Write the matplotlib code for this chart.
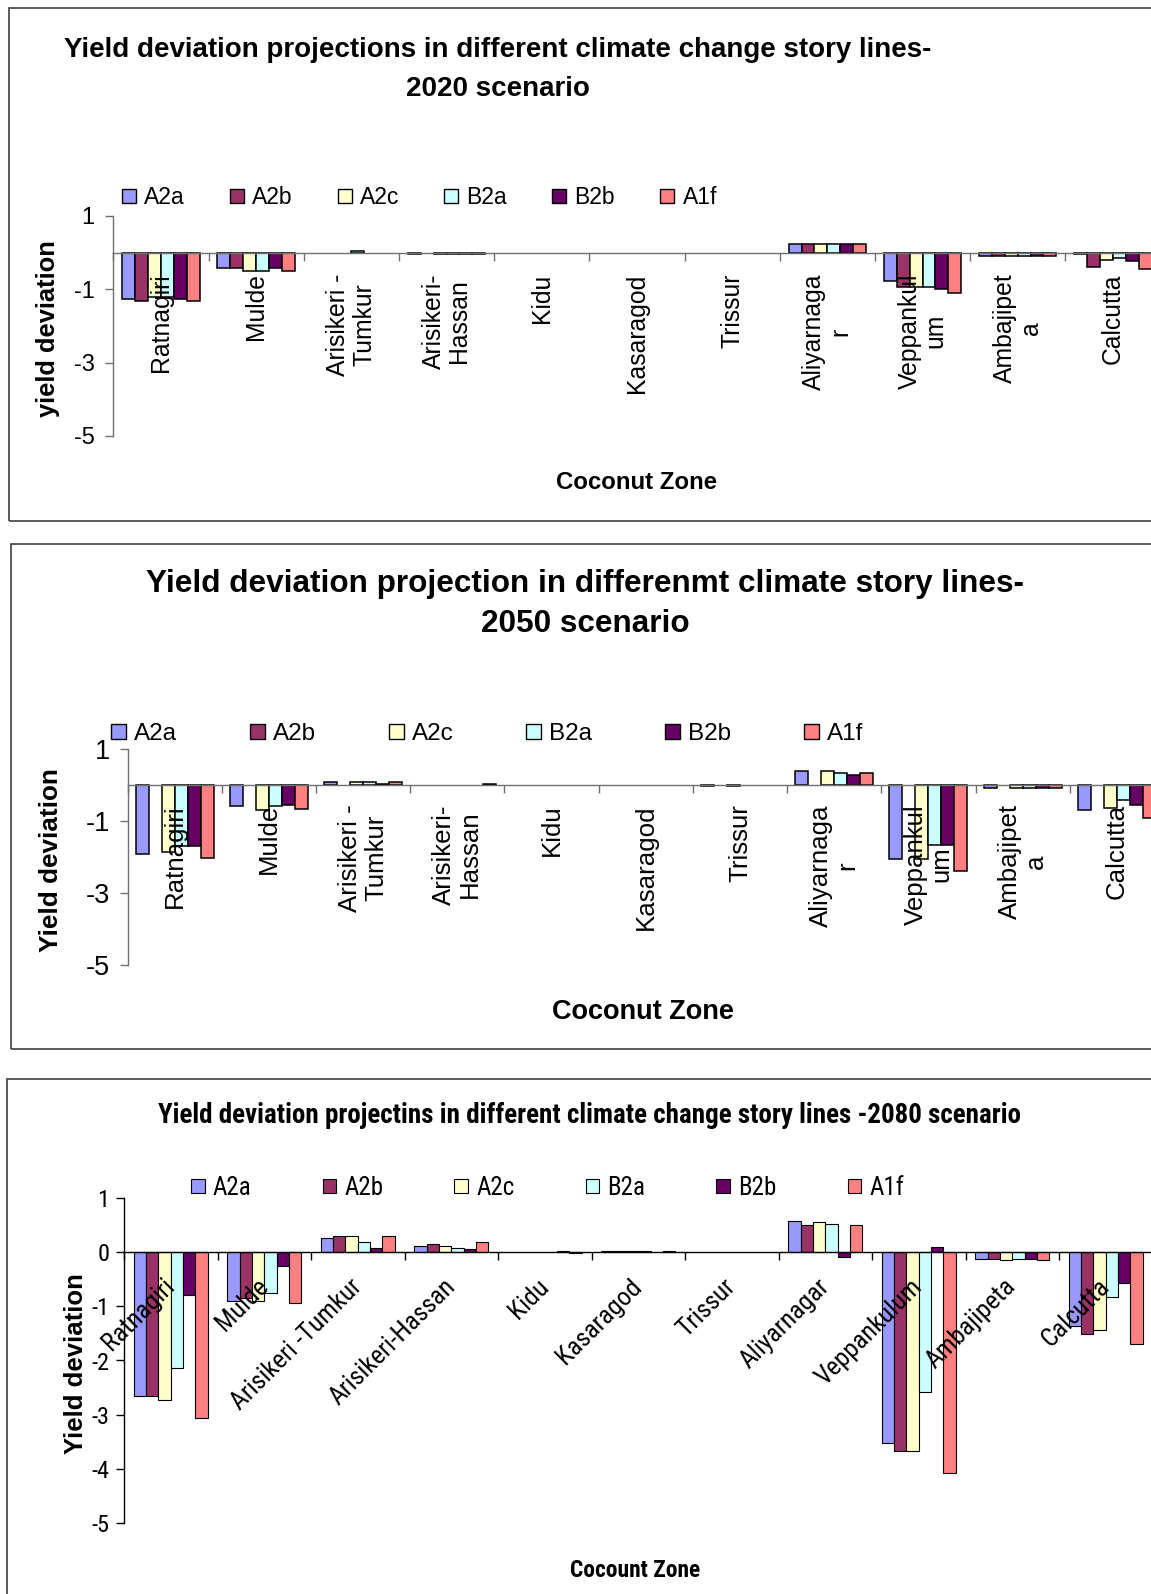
import numpy as np
import matplotlib
matplotlib.use('Agg')
import matplotlib.pyplot as plt
from matplotlib.patches import Patch, Rectangle
from matplotlib.font_manager import FontProperties, fontManager

zones = ['Ratnagiri', 'Mulde', 'Arisikeri -Tumkur', 'Arisikeri-Hassan', 'Kidu',
         'Kasaragod', 'Trissur', 'Aliyarnagar', 'Veppankulum', 'Ambajipeta', 'Calcutta']
# the 2020 and 2050 charts wrap the long zone names
zones_wrapped = ['Ratnagiri', 'Mulde', 'Arisikeri -\nTumkur', 'Arisikeri-\nHassan', 'Kidu',
                 'Kasaragod', 'Trissur', 'Aliyarnaga\nr', 'Veppankul\num', 'Ambajipet\na',
                 'Calcutta']
storylines = ['A2a', 'A2b', 'A2c', 'B2a', 'B2b', 'A1f']
colors = ['#9999ff', '#993366', '#ffffcc', '#ccffff', '#660066', '#ff8080']

# yield deviation, one row per story line (A2a, A2b, A2c, B2a, B2b, A1f)
dev_2020 = [
    [-1.25, -0.43, 0.00, -0.03, 0, 0, 0, 0.23, -0.77, -0.10, -0.03],
    [-1.31, -0.43, 0.00, 0.00, 0, 0, 0, 0.23, -0.93, -0.10, -0.40],
    [-1.20, -0.50, 0.00, -0.03, 0, 0, 0, 0.23, -0.93, -0.10, -0.21],
    [-1.20, -0.50, 0.04, -0.03, 0, 0, 0, 0.23, -0.93, -0.10, -0.15],
    [-1.25, -0.43, 0.00, -0.03, 0, 0, 0, 0.23, -0.98, -0.10, -0.22],
    [-1.31, -0.50, 0.00, -0.03, 0, 0, 0, 0.23, -1.10, -0.10, -0.45],
]
dev_2050 = [
    [-1.92, -0.60, 0.08, 0.00, 0, 0, -0.03, 0.38, -2.07, -0.10, -0.71],
    [0, 0, 0, 0, 0, 0, 0, 0, 0, 0, 0],
    [-1.86, -0.71, 0.08, 0.00, 0, 0, -0.03, 0.38, -2.07, -0.10, -0.64],
    [-1.70, -0.60, 0.08, 0.00, 0, 0, 0.00, 0.32, -1.67, -0.10, -0.42],
    [-1.70, -0.55, 0.02, 0.00, 0, 0, 0.00, 0.26, -1.67, -0.10, -0.57],
    [-2.03, -0.67, 0.08, 0.02, 0, 0, 0.00, 0.32, -2.40, -0.10, -0.91],
]
dev_2080 = [
    [-2.65, -0.90, 0.27, 0.11, 0.00, 0.03, 0, 0.57, -3.52, -0.12, -1.37],
    [-2.65, -0.85, 0.30, 0.15, 0.00, 0.03, 0, 0.51, -3.67, -0.12, -1.51],
    [-2.73, -0.90, 0.30, 0.12, 0.00, 0.03, 0, 0.55, -3.67, -0.15, -1.43],
    [-2.13, -0.75, 0.19, 0.08, 0.00, 0.03, 0, 0.52, -2.58, -0.12, -0.83],
    [-0.79, -0.25, 0.08, 0.05, 0.03, 0.00, 0, -0.09, 0.10, -0.12, -0.57],
    [-3.06, -0.93, 0.30, 0.19, -0.02, 0.03, 0, 0.51, -4.08, -0.15, -1.69],
]

W, H = 1151, 1594
REG = 'Liberation Sans'

fig = plt.figure(figsize=(W / 100, H / 100), dpi=100)
renderer = fig.canvas.get_renderer()


def text_width(s, family, size, weight='normal'):
    w, _, _ = renderer.get_text_width_height_descent(
        s, FontProperties(family=family, size=size, weight=weight), ismath=False)
    return w


def pick_narrow(candidates):
    # first condensed family that also ships a static bold face
    for name in candidates:
        weights = {f.weight for f in fontManager.ttflist if f.name == name}
        if weights & {700, 'bold'} and weights & {400, 'normal', 'regular'}:
            return name
    return REG


NARROW = pick_narrow(['Liberation Sans Narrow', 'Arial Narrow', 'Archivo Narrow',
                      'Roboto Condensed', 'IBM Plex Sans Condensed', 'PT Sans Narrow',
                      'Fira Sans Condensed', 'Sofia Sans Condensed'])
# condensed faces differ in width: size them so text runs about 0.8 of Arial width
_probe = 'Yield deviation projectins in different climate change story lines'
NSCALE = 0.8 * text_width(_probe, REG, 20, 'bold') / text_width(_probe, NARROW, 20, 'bold')


def fx(px):
    return px / W


def fy(py):
    return 1 - py / H


def axes_rect(left, right, top, bottom):
    return [fx(left), fy(bottom), (right - left) / W, (bottom - top) / H]


def frame(left, top, bottom):
    # chart-area border, running off the right edge of the page
    fig.add_artist(Rectangle((fx(left), fy(bottom)), (1300 - left) / W, (bottom - top) / H,
                             transform=fig.transFigure, fill=False,
                             edgecolor='#404040', linewidth=1.2))


def draw_bars(ax, values, bar_w, lw):
    x = np.arange(len(zones)) + 0.5
    for k, (vals, c) in enumerate(zip(values, colors)):
        vals = np.asarray(vals, dtype=float)
        keep = vals != 0
        ax.bar(x[keep] + (k - 2.5) * bar_w, vals[keep], width=bar_w, color=c,
               edgecolor='black', linewidth=lw, zorder=2)


def setup_axes(ax, yticks, axis_color, tick_font, tick_size, tick_pad):
    ax.patch.set_visible(False)
    ax.set_axisbelow(False)  # zone names sit on top of the bars
    ax.set_xlim(0, len(zones))
    ax.set_ylim(-5, 1)
    ax.spines['top'].set_visible(False)
    ax.spines['right'].set_visible(False)
    ax.spines['bottom'].set_position(('data', 0))
    for side in ('left', 'bottom'):
        ax.spines[side].set_color(axis_color)
        ax.spines[side].set_linewidth(1.0)
    ax.set_yticks(yticks)
    ax.set_yticklabels([str(t) for t in yticks], fontfamily=tick_font, fontsize=tick_size)
    ax.tick_params(axis='y', direction='out', length=5.5, width=1.0, color=axis_color,
                   pad=tick_pad)
    ax.set_xticks(np.arange(len(zones) + 1))
    ax.set_xticklabels([])
    ax.tick_params(axis='x', which='major', direction='out', length=5.5, width=1.0,
                   color=axis_color)
    ax.set_xticks(np.arange(len(zones)) + 0.5, minor=True)


def add_legend(ax, x_px, y_px, family, size, box_px, gap_px, pitch_px, lw):
    # box_px: key square, gap_px: key-to-text gap, pitch_px: distance between entries
    fs_px = size * 100 / 72
    tw = text_width('A2a', family, size)
    handles = [Patch(facecolor=c, edgecolor='black', linewidth=lw) for c in colors]
    ax.legend(handles, storylines, loc='center left', bbox_to_anchor=(fx(x_px), fy(y_px)),
              bbox_transform=fig.transFigure, ncol=6, frameon=False, borderpad=0,
              borderaxespad=0, handlelength=box_px / fs_px,
              handleheight=(box_px / fs_px - 0.245) / 0.65,
              handletextpad=gap_px / fs_px,
              columnspacing=(pitch_px - box_px - gap_px - tw) / fs_px,
              prop={'family': family, 'size': size})


# ---- 2020 ----
frame(9, 8, 521)
ax1 = fig.add_axes(axes_rect(113.3, 1160.5, 216, 436))
draw_bars(ax1, dev_2020, 0.1355, 1.1)
setup_axes(ax1, [1, -1, -3, -5], '#707070', REG, 17, 8)
ax1.set_xticklabels(zones_wrapped, minor=True, rotation=90, ha='center', va='top',
                    multialignment='center', fontfamily=REG, fontsize=17.8, linespacing=1.1)
ax1.tick_params(axis='x', which='minor', length=0, pad=15)
add_legend(ax1, 121.5, 198, REG, 16.5, 14, 8.3, 108, 1.0)
fig.text(fx(497.5), fy(37), 'Yield deviation projections in different climate change story lines-\n'
         '2020 scenario', ha='center', va='top', multialignment='center', fontfamily=REG,
         fontsize=20, fontweight='bold', linespacing=1.665)
fig.text(fx(48), fy(329), 'yield deviation', rotation=90, ha='center', va='center',
         fontfamily=REG, fontsize=18.4, fontweight='bold')
fig.text(fx(637), fy(489), 'Coconut Zone', ha='center', va='baseline', fontfamily=REG,
         fontsize=17.3, fontweight='bold')

# ---- 2050 ----
frame(10.7, 544, 1049)
ax2 = fig.add_axes(axes_rect(127.7, 1163.9, 748.7, 965))
draw_bars(ax2, dev_2050, 0.138, 1.1)
setup_axes(ax2, [1, -1, -3, -5], '#707070', REG, 19.5, 7)
ax2.set_xticklabels(zones_wrapped, minor=True, rotation=90, ha='center', va='top',
                    multialignment='center', fontfamily=REG, fontsize=18.6, linespacing=1.1)
ax2.tick_params(axis='x', which='minor', length=0, pad=14)
add_legend(ax2, 111, 734, REG, 17.5, 15, 8.3, 138.7, 1.0)
fig.text(fx(585), fy(569), 'Yield deviation projection in differenmt climate story lines-\n'
         '2050 scenario', ha='center', va='top', multialignment='center', fontfamily=REG,
         fontsize=22.7, fontweight='bold', linespacing=1.45)
fig.text(fx(51), fy(860), 'Yield deviation', rotation=90, ha='center', va='center',
         fontfamily=REG, fontsize=18.8, fontweight='bold')
fig.text(fx(643), fy(1019), 'Coconut Zone', ha='center', va='baseline', fontfamily=REG,
         fontsize=19.5, fontweight='bold')

# ---- 2080 ----
frame(7.5, 1078.5, 1700)
ax3 = fig.add_axes(axes_rect(124, 1152.5, 1198, 1523))
draw_bars(ax3, dev_2080, 0.1316, 0.8)
setup_axes(ax3, [1, 0, -1, -2, -3, -4, -5], 'black', NARROW, 18.5 * NSCALE, 5)
ax3.set_xticklabels(zones, minor=True, rotation=45, ha='right', va='center',
                    rotation_mode='anchor', fontfamily=NARROW, fontsize=19.7 * NSCALE)
ax3.tick_params(axis='x', which='minor', length=0, pad=22)
add_legend(ax3, 191, 1188, NARROW, 19 * NSCALE, 13.6, 8, 131.6, 0.8)
fig.text(fx(590), fy(1102), 'Yield deviation projectins in different climate change story '
         'lines -2080 scenario', ha='center', va='top', fontfamily=NARROW,
         fontsize=20.5 * NSCALE, fontweight='bold')
fig.text(fx(76), fy(1364), 'Yield deviation', rotation=90, ha='center', va='center',
         fontfamily=REG, fontsize=18.5, fontweight='bold')
fig.text(fx(635), fy(1577), 'Cocount Zone', ha='center', va='baseline', fontfamily=NARROW,
         fontsize=17.8 * NSCALE, fontweight='bold')

fig.savefig('out.png', dpi=100)
